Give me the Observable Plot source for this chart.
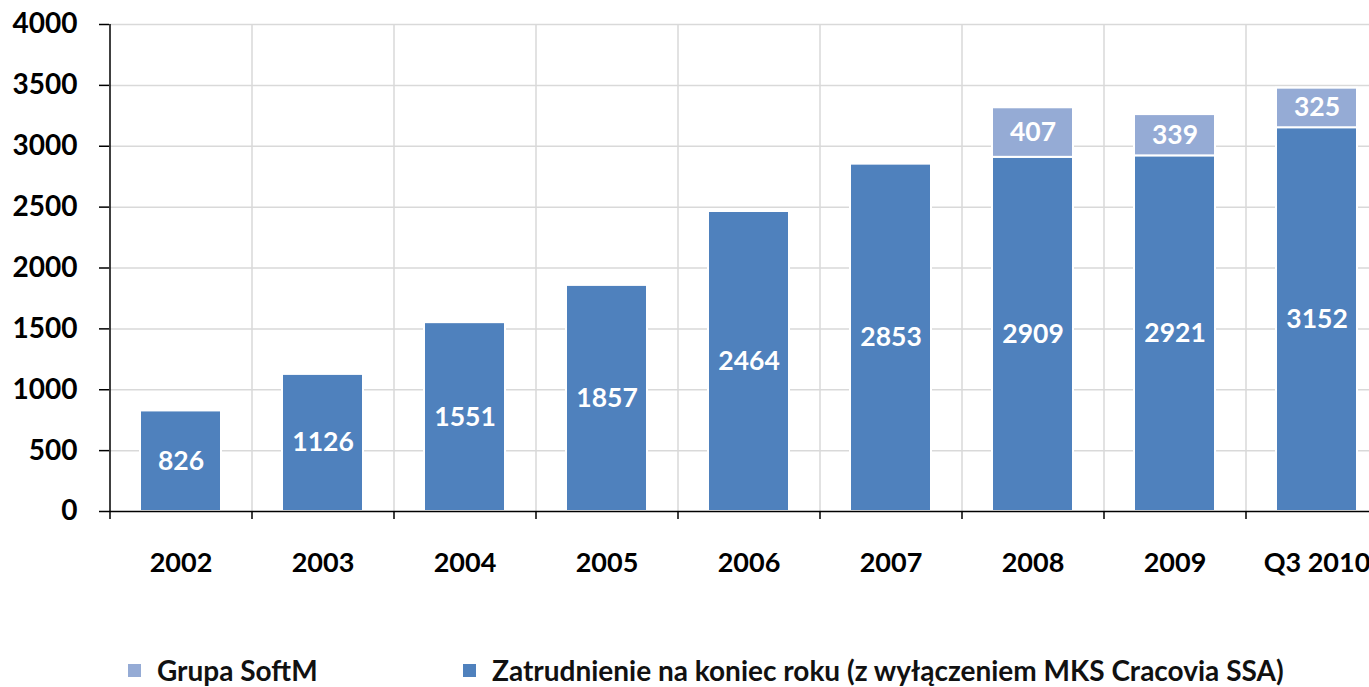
<!DOCTYPE html>
<html>
<head>
<meta charset="utf-8">
<script src="https://cdn.jsdelivr.net/npm/d3@7"></script>
<script src="https://cdn.jsdelivr.net/npm/@observablehq/plot@0.6"></script>
<style>
  html, body { margin: 0; padding: 0; background: white; overflow: hidden; }
  #chart svg { overflow: hidden; }
  .legend { display: flex; align-items: center; height: 44px; font-family: Lato, sans-serif; font-weight: bold; font-size: 28px; color: #111; }
  .legend .item { display: flex; align-items: center; position: absolute; }
  .legend .sw { width: 13px; height: 13px; margin-right: 16px; display: inline-block; }
</style>
</head>
<body>
<div id="chart"></div>
<div class="legend" id="legend" style="position:relative"></div>
<script>
const categories = ["2002", "2003", "2004", "2005", "2006", "2007", "2008", "2009", "Q3 2010"];
const employment = [826, 1126, 1551, 1857, 2464, 2853, 2909, 2921, 3152];
const softm = [null, null, null, null, null, null, 407, 339, 325];
const seriesNames = ["Zatrudnienie na koniec roku (z wyłączeniem MKS Cracovia SSA)", "Grupa SoftM"];
const seriesColors = ["#4F81BD", "#95ABD5"];
const yTicks = [0, 500, 1000, 1500, 2000, 2500, 3000, 3500, 4000];

const rows = [];
categories.forEach((c, i) => rows.push({cat: c, series: seriesNames[0], value: employment[i]}));
categories.forEach((c, i) => { if (softm[i] != null) rows.push({cat: c, series: seriesNames[1], value: softm[i]}); });

const font = "Lato, sans-serif";
const chart = Plot.plot({
  width: 1369,
  height: 648,
  marginLeft: 109,
  marginRight: -18,
  marginTop: 24,
  marginBottom: 137,
  style: {fontFamily: font, fontSize: "27px", fontWeight: "bold", color: "#111", background: "white"},
  x: {domain: categories, paddingInner: 0.43, paddingOuter: 0.215, label: null},
  y: {domain: [0, 4000], label: null},
  color: {domain: seriesNames, range: seriesColors},
  marks: [
    Plot.ruleY(yTicks.filter(d => d > 0), {stroke: "#D9D9D9", strokeWidth: 1.5}),
    Plot.ruleX(categories.slice(1), {x: d => d, dx: -71, y1: 4000, y2: 0, stroke: "#D9D9D9", strokeWidth: 1.5}),
    Plot.barY(rows, Plot.stackY({x: "cat", y: "value", fill: "series", stroke: "white", strokeWidth: 2})),
    Plot.text(rows, Plot.stackY({x: "cat", y: "value", z: "series", text: d => String(d.value), fill: "white", fontSize: 26.5, fontWeight: "bold"})),
    Plot.ruleY([0], {stroke: "black", strokeWidth: 1.5}),
    Plot.ruleX(categories, {x: d => d, dx: -71, y1: 0, y2: 0, insetBottom: -8, stroke: "black", strokeWidth: 1.5}),
    Plot.ruleX(categories.slice(0, 1), {x: d => d, dx: -71, y1: 4000, y2: 0, stroke: "black", strokeWidth: 1.5}),
    Plot.axisY({ticks: yTicks, tickSize: 10, tickPadding: 22, tickFormat: d => String(d), stroke: "black", strokeWidth: 1.5, fill: "black", fontSize: 28}),
    Plot.axisX({tickSize: 0, tickPadding: 41, fill: "black", fontSize: 27})
  ]
});
document.getElementById("chart").appendChild(chart);

const legend = document.getElementById("legend");
const legendItems = [
  {name: seriesNames[1], color: seriesColors[1], left: 128},
  {name: seriesNames[0], color: seriesColors[0], left: 463}
];
legendItems.forEach(it => {
  const el = document.createElement("div");
  el.className = "item";
  el.style.left = it.left + "px";
  const sw = document.createElement("span");
  sw.className = "sw";
  sw.style.background = it.color;
  const tx = document.createElement("span");
  tx.textContent = it.name;
  el.appendChild(sw);
  el.appendChild(tx);
  legend.appendChild(el);
});
</script>
</body>
</html>
